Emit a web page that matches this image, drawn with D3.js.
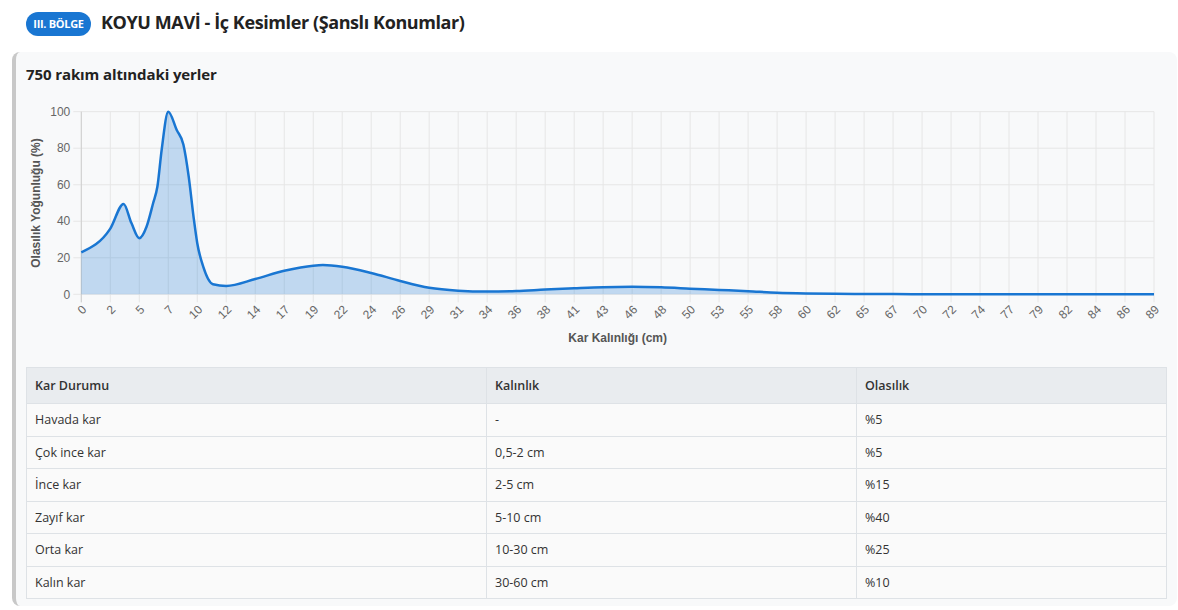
<!DOCTYPE html>
<html lang="tr">
<head>
<meta charset="utf-8">
<script src="https://cdn.jsdelivr.net/npm/d3@7"></script>
<style>
  body { margin: 0; width: 1178px; height: 610px; background: #fff; position: relative; overflow: hidden;
         font-family: "Open Sans", "Noto Sans", sans-serif; }
  .badge { position: absolute; left: 26px; top: 12px; width: 65px; height: 24px; border-radius: 12px;
           background: #1976d2; color: #fff; font-size: 11px; font-weight: 700; line-height: 24px;
           text-align: center; letter-spacing: -0.3px; }
  .title { position: absolute; left: 101px; top: 10px; font-size: 18px; font-weight: 700; color: #222;
           letter-spacing: -0.4px; }
  .card { position: absolute; left: 12px; top: 52px; width: 1161px; height: 554px; background: #f8f9fa;
          border-left: 4px solid #c8c8c8; border-radius: 8px; }
  .card h3 { position: absolute; left: 10px; top: 12px; margin: 0; font-size: 15px; font-weight: 700; color: #222;
             letter-spacing: -0.1px; }
  #chart { position: absolute; left: 0; top: 0; }
  table { position: absolute; left: 26px; top: 367px; width: 1141px; border-collapse: collapse;
          font-size: 12.5px; color: #333; }
  th, td { border: 1px solid #dee2e6; padding: 0 8px; text-align: left; }
  th { background: #e9ecef; height: 35px; font-weight: 600; }
  td { background: #fafafa; height: 31.5px; }
</style>
</head>
<body>
<div class="badge">III. BÖLGE</div>
<div class="title">KOYU MAVİ - İç Kesimler (Şanslı Konumlar)</div>
<div class="card"><h3>750 rakım altındaki yerler</h3></div>
<svg id="chart" width="1178" height="362"></svg>
<table id="tbl"></table>
<script>
// x tick labels as shown under the axis (cm)
var tickLabels = [0, 2, 5, 7, 10, 12, 14, 17, 19, 22, 24, 26, 29, 31, 34, 36, 38, 41, 43, 46,
                  48, 50, 53, 55, 58, 60, 62, 65, 67, 70, 72, 74, 77, 79, 82, 84, 86, 89];
var xMax = 88.8;

// density curve
var thicknessCm = [0, 2.4, 3.5, 4.15, 4.8, 5.4, 5.95, 6.3, 6.65, 7.2, 7.9, 8.45, 8.9, 9.3, 9.6,
                   10.1, 10.9, 12, 14.4, 16.8, 19.2, 20, 21.6, 24, 26.4, 28.8, 31.2, 33.6, 36,
                   38.4, 40.8, 43.2, 45.6, 48, 50.4, 52.8, 55.2, 57.6, 60, 62.4, 64.8, 67.2,
                   69.6, 72, 80, 88.8];
var density = [23, 36, 49.5, 39, 30.7, 37, 50, 59, 79, 100, 90, 82, 64, 42, 28,
               15, 5.5, 4.6, 8.4, 12.9, 15.7, 16, 15.1, 11.7, 7.3, 3.6, 2, 1.5, 1.8,
               2.6, 3.3, 3.9, 4.1, 3.8, 3.1, 2.4, 1.7, 0.9, 0.5, 0.3, 0.2, 0.1,
               0.05, 0, 0, 0];
var yTicks = [0, 20, 40, 60, 80, 100];

// table
var colNames = ["Kar Durumu", "Kalınlık", "Olasılık"];
var states = ["Havada kar", "Çok ince kar", "İnce kar", "Zayıf kar", "Orta kar", "Kalın kar"];
var ranges = ["-", "0,5-2 cm", "2-5 cm", "5-10 cm", "10-30 cm", "30-60 cm"];
var probs = [5, 5, 15, 40, 25, 10];

var svg = d3.select("#chart");
var plotL = 81.3, plotR = 1154, plotT = 111.7, plotB = 294.3;
var x = d3.scaleLinear().domain([0, xMax]).range([plotL, plotR]);
var y = d3.scaleLinear().domain([0, 100]).range([plotB, plotT]);
var tickPos = tickLabels.map(function(d, i) { return i * xMax / (tickLabels.length - 1); });
var chartFont = "'Liberation Sans', Arial, sans-serif";

// grid
svg.append("g").selectAll("line").data(yTicks).join("line")
  .attr("x1", plotL - 8).attr("x2", plotR)
  .attr("y1", function(d) { return y(d); }).attr("y2", function(d) { return y(d); })
  .attr("stroke", "#e6e6e6").attr("stroke-width", 1);
svg.append("g").selectAll("line").data(tickPos).join("line")
  .attr("x1", function(d) { return x(d); }).attr("x2", function(d) { return x(d); })
  .attr("y1", plotT).attr("y2", plotB + 8)
  .attr("stroke", "#e6e6e6").attr("stroke-width", 1);
svg.append("line").attr("x1", plotL).attr("x2", plotL).attr("y1", plotT).attr("y2", plotB + 8)
  .attr("stroke", "#cfcfcf");

// area + line
var pts = thicknessCm.map(function(d, i) { return [d, density[i]]; });
svg.append("path").datum(pts)
  .attr("d", d3.area().curve(d3.curveMonotoneX)
    .x(function(d) { return x(d[0]); }).y0(y(0)).y1(function(d) { return y(d[1]); }))
  .attr("fill", "rgba(25,118,210,0.25)");
svg.append("path").datum(pts)
  .attr("d", d3.line().curve(d3.curveMonotoneX)
    .x(function(d) { return x(d[0]); }).y(function(d) { return y(d[1]); }))
  .attr("fill", "none").attr("stroke", "#1976d2").attr("stroke-width", 2.5);

// y ticks
svg.append("g").selectAll("text").data(yTicks).join("text")
  .attr("x", plotL - 11).attr("y", function(d) { return y(d); }).attr("dy", "0.35em")
  .attr("text-anchor", "end").attr("font-family", chartFont).attr("font-size", 12)
  .attr("fill", "#666").text(function(d) { return d; });

// x ticks
svg.append("g").selectAll("text").data(tickPos).join("text")
  .attr("transform", function(d) { return "translate(" + (x(d) + 3) + "," + (plotB + 13) + ") rotate(-45)"; })
  .attr("text-anchor", "end").attr("dy", "0.35em")
  .attr("font-family", chartFont).attr("font-size", 12).attr("fill", "#666")
  .text(function(d, i) { return tickLabels[i]; });

// axis titles
svg.append("text").attr("transform", "translate(40," + ((plotT + plotB) / 2) + ") rotate(-90)")
  .attr("text-anchor", "middle").attr("font-family", chartFont).attr("font-size", 12)
  .attr("font-weight", "bold").attr("fill", "#555").text("Olasılık Yoğunluğu (%)");
svg.append("text").attr("x", (plotL + plotR) / 2).attr("y", 342)
  .attr("text-anchor", "middle").attr("font-family", chartFont).attr("font-size", 12)
  .attr("font-weight", "bold").attr("fill", "#555").text("Kar Kalınlığı (cm)");

// table
var tbl = d3.select("#tbl");
tbl.append("tr").selectAll("th").data(colNames).join("th").text(function(d) { return d; });
tbl.selectAll("tr.row").data(states).join("tr").attr("class", "row")
  .selectAll("td").data(function(d, i) { return [d, ranges[i], "%" + probs[i]]; })
  .join("td").text(function(d) { return d; });
d3.selectAll("th").filter(function(d, i) { return i === 0; }).style("width", "443px");
d3.selectAll("th").filter(function(d, i) { return i === 1; }).style("width", "353px");
</script>
</body>
</html>
